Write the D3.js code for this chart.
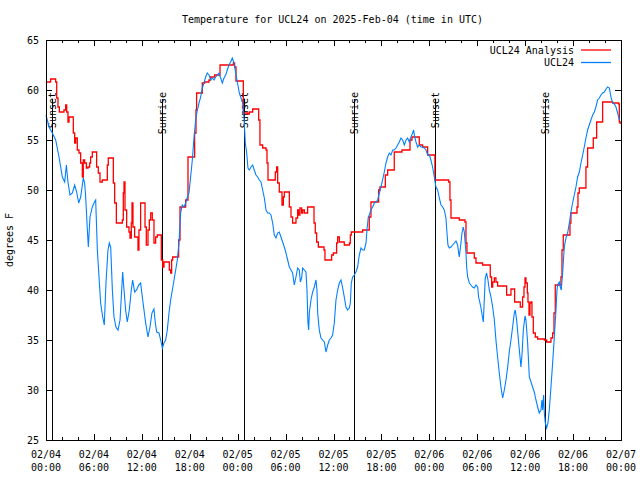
<!DOCTYPE html>
<html><head><meta charset="utf-8">
<script src="https://cdn.jsdelivr.net/npm/d3@7"></script>
<style>
body{margin:0;background:#fff}
svg{display:block}
text{font-family:"DejaVu Sans Mono","Liberation Mono",monospace;font-size:10px;fill:#000}
</style>
</head><body><svg id="chart" width="640" height="480"></svg>
<script>
// ---------- data ----------
const startUtc = Date.UTC(2025, 1, 4, 0, 0);
const spanHours = 72;
const chartTitle = "Temperature for UCL24 on 2025-Feb-04 (time in UTC)";
const yAxisTitle = "degrees F";
const yDomain = [25, 65];
const yTickValues = [25, 30, 35, 40, 45, 50, 55, 60, 65];
const seriesNames = ["UCL24 Analysis", "UCL24"];
const seriesColors = ["#ff0000", "#0080ff"];
// [hours since start, label]
const sunEvents = [[0.79, "Sunset"], [14.56, "Sunrise"], [24.84, "Sunset"], [38.61, "Sunrise"], [48.75, "Sunset"], [62.48, "Sunrise"]];
// Analysis (stepped): [hours since start, degF]
const analysisSeries = [[0,60.8],[0.58,61.1],[1.21,60.8],[1.34,59.2],[1.5,58.3],[1.67,57.8],[2.25,58.0],[2.46,58.5],[2.59,57.8],[2.75,56.8],[2.88,57.3],[3.42,55.7],[3.59,54.7],[3.71,55.2],[3.92,54.0],[4.13,53.7],[4.34,52.7],[4.55,51.3],[4.67,53.0],[4.84,52.7],[5.05,52.2],[5.26,52.3],[5.47,52.7],[5.59,53.3],[5.8,53.8],[6.34,52.3],[6.55,51.7],[6.76,50.8],[7.05,51.0],[7.68,52.5],[7.8,53.2],[8.43,50.7],[8.6,48.7],[8.81,46.7],[9.56,47.0],[9.68,49.7],[9.77,50.8],[9.89,48.0],[10.1,46.3],[10.39,45.8],[10.52,45.2],[10.68,46.7],[10.77,48.7],[10.89,46.3],[11.1,45.3],[11.52,44.0],[11.64,46.0],[11.85,48.7],[12.4,46.3],[12.56,44.5],[12.77,46.0],[12.94,47.0],[13.11,47.7],[13.31,47.0],[13.52,44.7],[13.73,45.3],[13.94,45.5],[14.44,43.0],[14.61,42.3],[14.77,42.8],[15.44,42.0],[15.61,41.7],[15.73,43.0],[15.86,43.3],[16.61,45.0],[16.78,48.3],[17.49,49.0],[17.78,53.3],[18.61,55.7],[18.78,58.0],[18.86,59.7],[19.57,60.7],[19.87,60.8],[20.41,61.0],[20.62,61.3],[21.12,61.5],[21.79,62.5],[23.46,62.7],[23.62,62.3],[23.79,60.9],[24.71,57.7],[25.25,57.6],[25.46,57.8],[25.88,58.1],[26.63,57.0],[26.79,54.5],[27.13,54.2],[27.55,54.0],[27.67,52.7],[27.8,51.0],[28.71,51.8],[28.88,52.3],[29.01,50.7],[29.21,49.8],[29.55,48.5],[29.72,49.3],[29.84,49.8],[30.47,48.3],[30.68,47.3],[30.88,46.7],[31.3,47.2],[31.51,48.0],[31.63,47.5],[31.8,48.2],[32.01,47.7],[32.14,48.0],[32.35,47.7],[32.76,48.3],[33.56,46.7],[33.72,45.7],[33.89,44.8],[34.1,44.3],[34.81,44.0],[34.93,43.0],[35.77,43.5],[35.98,43.7],[36.39,44.7],[36.52,45.3],[36.73,44.8],[37.35,44.5],[38.0,44.7],[38.11,45.5],[38.23,45.8],[39.65,46.0],[40.48,47.3],[40.69,48.8],[41.65,50.0],[41.82,50.3],[42.49,51.5],[42.78,52.0],[43.61,53.8],[44.57,54.0],[45.58,55.0],[45.83,55.3],[46.74,54.5],[47.16,54.3],[47.79,53.5],[48.7,51.0],[50.42,50.8],[50.58,49.0],[50.71,47.2],[51.75,47.0],[52.46,46.8],[52.59,44.7],[52.71,43.7],[53.63,43.2],[53.84,42.7],[54.67,42.5],[55.63,41.3],[55.8,40.3],[55.93,40.8],[56.14,41.2],[56.34,40.8],[56.55,40.4],[57.68,39.5],[58.22,40.1],[58.68,38.8],[59.39,38.3],[59.68,39.3],[59.85,40.3],[59.98,41.2],[60.1,40.7],[60.27,39.7],[60.35,38.8],[60.48,37.5],[60.6,38.7],[60.73,38.8],[60.85,37.3],[61.02,35.7],[61.27,35.3],[61.56,35.1],[62.4,35.0],[62.69,34.8],[63.23,35.2],[63.44,35.7],[63.61,37.7],[63.77,40.5],[64.48,41.3],[64.61,44.0],[64.77,45.5],[65.61,46.7],[65.73,47.7],[66.49,48.3],[66.61,49.7],[66.78,50.2],[67.61,52.3],[67.82,54.2],[68.53,55.2],[68.95,56.8],[69.7,58.8],[70.95,58.7],[71.7,58.6],[71.79,56.8],[71.9,56.6]];
// Station observations: [hours since start, degF]
const ucl24Series = [[0.0,57.5],[0.38,56.3],[0.79,55.7],[1.21,55.0],[1.63,53.3],[2.05,51.3],[2.34,50.8],[2.55,52.5],[2.75,50.8],[3.0,49.5],[3.3,49.7],[3.59,50.5],[3.84,49.8],[4.09,48.7],[4.34,49.3],[4.67,51.2],[4.84,50.7],[4.97,49.3],[5.18,46.0],[5.3,44.3],[5.51,47.3],[5.8,48.3],[6.01,48.7],[6.22,49.0],[6.43,44.0],[6.64,41.3],[6.84,38.7],[7.1,37.3],[7.3,36.5],[7.51,40.7],[7.76,44.0],[7.93,44.7],[8.1,44.3],[8.31,40.0],[8.51,37.3],[8.76,36.3],[9.02,36.0],[9.27,37.0],[9.43,39.3],[9.6,41.8],[9.77,40.0],[9.97,38.0],[10.18,36.8],[10.43,38.0],[10.68,40.0],[10.85,41.0],[11.1,39.8],[11.35,40.0],[11.6,40.5],[11.85,40.7],[12.06,39.3],[12.27,38.0],[12.48,36.7],[12.77,35.3],[13.02,36.3],[13.27,37.7],[13.52,38.1],[13.69,36.7],[13.86,35.8],[14.15,35.7],[14.36,35.0],[14.57,34.2],[14.77,34.7],[14.98,35.0],[15.19,36.0],[15.4,37.7],[15.61,39.0],[15.82,40.0],[16.03,41.0],[16.24,42.0],[16.44,43.0],[16.65,44.7],[16.86,47.7],[17.07,48.5],[17.28,48.3],[17.49,48.7],[17.7,49.3],[17.9,49.7],[18.11,51.3],[18.32,53.0],[18.53,55.2],[18.74,57.0],[18.95,58.0],[19.16,58.7],[19.37,59.3],[19.57,60.2],[19.78,60.7],[19.99,61.3],[20.2,61.7],[20.41,61.5],[20.62,61.0],[20.83,61.2],[21.04,61.0],[21.24,61.3],[21.45,61.5],[21.66,61.7],[21.87,61.2],[22.08,60.7],[22.29,61.2],[22.5,61.5],[22.7,62.0],[22.91,62.5],[23.12,62.8],[23.33,63.2],[23.54,62.7],[23.75,61.7],[23.96,60.8],[24.21,59.7],[24.42,59.2],[24.62,58.7],[24.75,57.7],[24.83,56.7],[24.96,54.7],[25.13,53.7],[25.29,52.2],[25.46,52.0],[25.67,52.3],[25.88,52.5],[26.08,52.0],[26.29,51.5],[26.5,51.3],[26.71,51.0],[26.92,50.8],[27.13,50.0],[27.34,49.2],[27.55,48.0],[27.75,47.7],[27.96,47.7],[28.17,47.5],[28.38,46.7],[28.59,45.5],[28.8,45.2],[29.01,45.7],[29.21,45.8],[29.42,45.3],[29.63,44.8],[29.84,44.3],[30.05,43.7],[30.26,43.0],[30.47,42.3],[30.68,42.0],[30.88,41.7],[31.09,40.5],[31.3,41.3],[31.51,42.2],[31.72,42.0],[31.85,40.8],[32.01,41.2],[32.14,42.2],[32.35,42.0],[32.55,41.8],[32.68,40.0],[32.8,36.7],[32.89,36.0],[32.97,37.7],[33.18,39.0],[33.39,39.8],[33.6,40.3],[33.81,41.0],[33.93,40.0],[34.02,37.7],[34.22,36.0],[34.43,35.2],[34.64,35.0],[34.85,34.8],[35.06,33.8],[35.27,34.5],[35.48,35.0],[35.69,35.2],[35.89,35.5],[36.1,36.7],[36.31,39.0],[36.52,40.0],[36.73,40.7],[36.94,41.0],[37.15,40.2],[37.35,39.3],[37.56,38.3],[37.77,38.0],[37.98,38.2],[38.11,38.7],[38.23,40.7],[38.4,41.3],[38.61,41.5],[38.81,41.8],[39.02,42.3],[39.23,43.5],[39.44,44.2],[39.65,44.0],[39.86,44.0],[40.07,44.7],[40.19,46.0],[40.36,47.3],[40.48,47.5],[40.69,48.0],[40.9,48.3],[41.11,48.7],[41.32,48.8],[41.53,49.0],[41.74,49.7],[41.94,50.3],[42.15,51.0],[42.36,51.8],[42.57,52.7],[42.78,53.3],[42.99,53.7],[43.2,53.5],[43.41,54.0],[43.61,54.0],[43.82,54.2],[44.03,54.5],[44.24,54.8],[44.45,55.2],[44.66,55.0],[44.87,54.5],[45.08,55.0],[45.28,55.2],[45.49,54.8],[45.7,55.3],[45.91,55.7],[46.04,56.0],[46.16,55.3],[46.33,54.8],[46.54,54.3],[46.74,54.5],[46.95,54.3],[47.16,54.3],[47.37,54.2],[47.58,54.0],[47.79,53.5],[48.0,53.5],[48.2,53.0],[48.41,52.3],[48.62,51.3],[48.83,50.3],[49.04,50.0],[49.25,49.2],[49.46,48.5],[49.67,48.3],[49.87,48.0],[50.08,47.2],[50.21,45.7],[50.33,44.5],[50.5,44.2],[50.71,44.3],[50.92,44.5],[51.13,44.7],[51.34,44.9],[51.54,44.5],[51.75,43.3],[51.96,44.7],[52.09,45.7],[52.25,46.3],[52.38,45.8],[52.59,43.7],[52.67,42.3],[52.8,41.3],[53.01,40.7],[53.21,40.5],[53.42,40.3],[53.63,40.2],[53.84,40.5],[54.05,40.3],[54.17,39.3],[54.34,38.7],[54.51,38.0],[54.67,37.2],[54.76,36.8],[54.88,39.0],[55.0,41.2],[55.17,41.7],[55.34,41.0],[55.51,40.0],[55.72,39.3],[55.93,38.3],[56.14,37.0],[56.34,35.0],[56.55,33.3],[56.76,31.7],[56.97,30.3],[57.18,29.2],[57.39,30.0],[57.6,31.0],[57.81,32.3],[58.01,33.8],[58.22,35.0],[58.43,36.3],[58.64,37.7],[58.76,38.0],[58.93,37.0],[59.1,35.5],[59.27,34.0],[59.47,32.3],[59.6,33.5],[59.77,36.0],[59.98,37.4],[60.1,37.0],[60.31,34.7],[60.52,31.3],[60.73,30.8],[60.93,30.3],[61.14,29.8],[61.35,29.0],[61.56,28.3],[61.77,27.7],[61.98,28.0],[62.1,29.0],[62.19,28.0],[62.31,29.5],[62.4,27.7],[62.52,26.7],[62.69,26.2],[62.85,26.7],[63.02,28.0],[63.23,30.3],[63.44,32.7],[63.65,35.3],[63.86,38.0],[63.98,40.0],[64.07,40.5],[64.27,40.8],[64.4,40.3],[64.52,40.0],[64.69,41.7],[64.9,44.3],[65.11,45.2],[65.32,45.7],[65.53,46.7],[65.73,47.8],[65.94,48.7],[66.15,49.5],[66.36,50.3],[66.57,51.3],[66.78,51.8],[66.99,52.7],[67.2,53.5],[67.4,54.3],[67.61,55.2],[67.82,56.0],[68.03,56.5],[68.24,57.0],[68.45,57.5],[68.66,57.8],[68.86,58.3],[69.07,59.0],[69.28,59.2],[69.49,59.5],[69.7,59.7],[69.91,59.8],[70.12,60.1],[70.33,60.3],[70.54,60.2],[70.74,59.3],[70.95,58.7],[71.16,58.6],[71.37,58.3],[71.58,57.7],[71.79,57.0]];

// ---------- drawing ----------
const svg = d3.select("#chart");
const L = 46, R = 621, T = 40, B = 440;
const toDate = h => new Date(startUtc + h * 3600e3);
const x = d3.scaleUtc().domain([toDate(0), toDate(spanHours)]).range([L, R]);
const y = d3.scaleLinear().domain(yDomain).range([B, T]);

svg.append("rect").attr("width", 640).attr("height", 480).attr("fill", "#fff");

// title
svg.append("text").attr("x", 332.5).attr("y", 23).attr("text-anchor", "middle").text(chartTitle);

// axes ticks
const crisp = g => g.attr("shape-rendering", "crispEdges").call(s => s.select(".domain").remove());
svg.append("g").attr("transform", `translate(0,${B})`)
  .call(d3.axisBottom(x).ticks(d3.utcHour.every(2)).tickSize(-3).tickFormat("")).call(crisp);
svg.append("g").attr("transform", `translate(0,${B})`)
  .call(d3.axisBottom(x).ticks(d3.utcHour.every(6)).tickSize(-6).tickFormat("")).call(crisp);
svg.append("g").attr("transform", `translate(0,${T})`)
  .call(d3.axisTop(x).ticks(d3.utcHour.every(2)).tickSize(-3).tickFormat("")).call(crisp);
svg.append("g").attr("transform", `translate(0,${T})`)
  .call(d3.axisTop(x).ticks(d3.utcHour.every(6)).tickSize(-6).tickFormat("")).call(crisp);
svg.append("g").attr("transform", `translate(${L},0)`)
  .call(d3.axisLeft(y).tickValues(yTickValues).tickSize(-6).tickPadding(7)).call(crisp)
  .call(g => g.selectAll("text").attr("font-family", null).attr("font-size", null));
svg.append("g").attr("transform", `translate(${R},0)`)
  .call(d3.axisRight(y).tickValues(yTickValues).tickSize(-6).tickFormat("")).call(crisp);

// x tick labels (two lines)
const fmtDate = d3.utcFormat("%m/%d"), fmtTime = d3.utcFormat("%H:%M");
const xLab = svg.append("g").selectAll("text").data(x.ticks(d3.utcHour.every(6))).join("text")
  .attr("text-anchor", "middle").attr("x", d => x(d));
xLab.append("tspan").attr("x", d => x(d)).attr("y", 458).text(d => fmtDate(d));
xLab.append("tspan").attr("x", d => x(d)).attr("y", 471).text(d => fmtTime(d));

// y axis title
svg.append("text").attr("transform", "translate(13,240) rotate(-90)").attr("text-anchor", "middle").text(yAxisTitle);

// sunrise / sunset markers
const sun = svg.append("g");
sun.selectAll("line").data(sunEvents).join("line")
  .attr("x1", d => Math.round(x(toDate(d[0]))) + 0.5).attr("x2", d => Math.round(x(toDate(d[0]))) + 0.5)
  .attr("y1", 99).attr("y2", B).attr("stroke", "#000").attr("stroke-width", 1).attr("shape-rendering", "crispEdges");
sun.selectAll("text").data(sunEvents).join("text")
  .attr("transform", d => `translate(${Math.round(x(toDate(d[0]))) + 4},92) rotate(-90)`)
  .attr("text-anchor", "end").text(d => d[1]);

// series
const line = d3.line().x(d => x(toDate(d[0]))).y(d => y(d[1]));
svg.append("path").datum(analysisSeries).attr("fill", "none").attr("stroke", seriesColors[0])
  .attr("stroke-width", 1.3).attr("d", line.curve(d3.curveStepAfter)(analysisSeries));
svg.append("path").datum(ucl24Series).attr("fill", "none").attr("stroke", seriesColors[1])
  .attr("stroke-width", 1.1).attr("d", d3.line().x(d => x(toDate(d[0]))).y(d => y(d[1]))(ucl24Series));

// frame
svg.append("rect").attr("x", L + 0.5).attr("y", T + 0.5).attr("width", R - L).attr("height", B - T)
  .attr("fill", "none").attr("stroke", "#000").attr("stroke-width", 1).attr("shape-rendering", "crispEdges");

// legend
const leg = svg.append("g");
seriesNames.forEach((name, i) => {
  const yy = 50 + i * 12.5;
  leg.append("text").attr("x", 574).attr("y", yy + 3.5).attr("text-anchor", "end").text(name);
  leg.append("line").attr("x1", 581).attr("x2", 611).attr("y1", yy).attr("y2", yy)
    .attr("stroke", seriesColors[i]).attr("stroke-width", 1.3);
});
</script>
</body></html>
